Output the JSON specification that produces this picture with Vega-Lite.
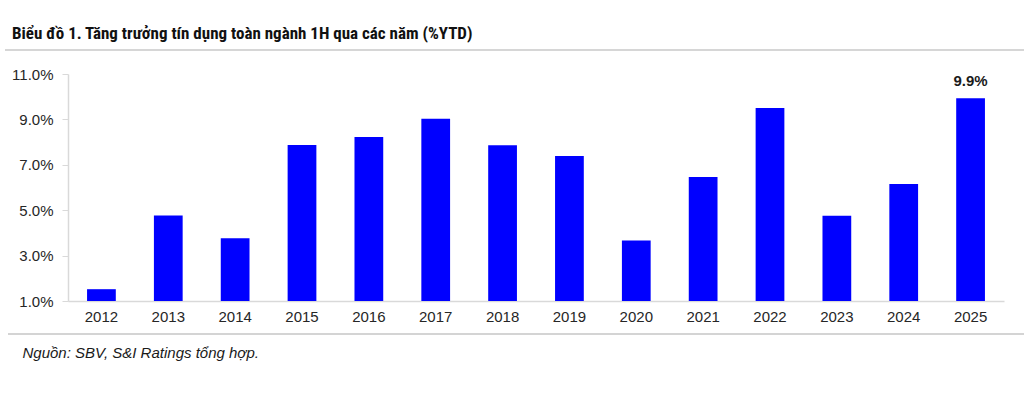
{
  "$schema": "https://vega.github.io/schema/vega-lite/v6.json",
  "width": 936,
  "height": 227,
  "autosize": {"type": "none"},
  "padding": {"left": 68, "top": 74, "right": 20, "bottom": 97},
  "background": "#ffffff",
  "config": {
    "view": {"stroke": null},
    "font": "Liberation Sans"
  },
  "title": {
    "text": "Biểu đồ 1. Tăng trưởng tín dụng toàn ngành 1H qua các năm (%YTD)",
    "anchor": "start",
    "frame": "group",
    "orient": "top",
    "font": "Liberation Sans Narrow, Roboto Condensed, Roboto",
    "fontSize": 17,
    "fontWeight": "bold",
    "color": "#111111",
    "dx": -56,
    "offset": 6
  },
  "data": {
    "values": [
      {"Year": "2012", "Growth": 0.0152},
      {"Year": "2013", "Growth": 0.0477},
      {"Year": "2014", "Growth": 0.0376},
      {"Year": "2015", "Growth": 0.0787},
      {"Year": "2016", "Growth": 0.0822},
      {"Year": "2017", "Growth": 0.0903},
      {"Year": "2018", "Growth": 0.0786},
      {"Year": "2019", "Growth": 0.0739},
      {"Year": "2020", "Growth": 0.0367},
      {"Year": "2021", "Growth": 0.0646},
      {"Year": "2022", "Growth": 0.095},
      {"Year": "2023", "Growth": 0.0476},
      {"Year": "2024", "Growth": 0.0615},
      {"Year": "2025", "Growth": 0.0993}
    ]
  },
  "encoding": {
    "x": {
      "field": "Year",
      "type": "ordinal",
      "sort": null,
      "scale": {"paddingInner": 0.57, "paddingOuter": 0.285},
      "axis": {
        "labelAngle": 0,
        "labelFontSize": 15,
        "labelColor": "#262626",
        "labelPadding": 8,
        "ticks": false,
        "domainColor": "#d9d9d9",
        "domainWidth": 1.5,
        "title": "Nguồn: SBV, S&I Ratings tổng hợp.",
        "titleFont": "Liberation Sans",
        "titleFontStyle": "italic",
        "titleFontWeight": "normal",
        "titleFontSize": 15,
        "titleColor": "#1a1a1a",
        "titleAnchor": "start",
        "titleAlign": "left",
        "titleBaseline": "alphabetic",
        "titleX": -46,
        "titleY": 56
      }
    },
    "y": {
      "field": "Growth",
      "type": "quantitative",
      "scale": {"domain": [0.01, 0.11], "nice": false, "zero": false},
      "axis": {
        "values": [0.01, 0.03, 0.05, 0.07, 0.09, 0.11],
        "format": ".1%",
        "title": null,
        "grid": false,
        "labelFontSize": 15,
        "labelColor": "#262626",
        "labelPadding": 9,
        "tickSize": 6,
        "tickColor": "#d9d9d9",
        "domainColor": "#d9d9d9",
        "domainWidth": 1.5
      }
    }
  },
  "layer": [
    {
      "mark": {"type": "bar", "color": "#0000ff"},
      "encoding": {"y2": {"datum": 0.01}}
    },
    {
      "transform": [{"filter": "datum.Year == '2025'"}],
      "mark": {"type": "text", "dy": -9, "baseline": "bottom", "fontSize": 15, "fontWeight": "bold", "color": "#1a1a1a"},
      "encoding": {
        "text": {"field": "Growth", "type": "quantitative", "format": ".1%"}
      }
    },
    {
      "data": {"values": [{}]},
      "mark": {"type": "rule", "color": "#c8c8c8", "strokeWidth": 1.5},
      "encoding": {"x": {"value": -63}, "x2": {"value": 956}, "y": {"value": -24}}
    },
    {
      "data": {"values": [{}]},
      "mark": {"type": "rule", "color": "#d4d4d4", "strokeWidth": 2},
      "encoding": {"x": {"value": -60}, "x2": {"value": 956}, "y": {"value": 260}}
    }
  ]
}
